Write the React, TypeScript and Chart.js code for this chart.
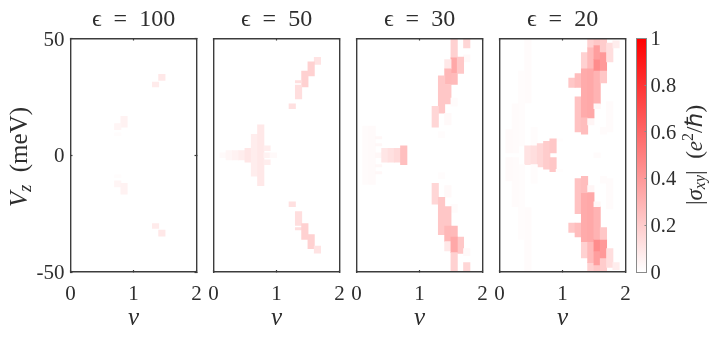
import React, { useEffect, useRef } from "react";
import { Chart, registerables } from "chart.js";

Chart.register(...registerables);

// [nu centre, Vz low, Vz high, |sigma_xy|]
type Cell = [number, number, number, number];

const epsilons = ["100", "50", "30", "20"];
const nuTicks = [0, 1, 2];
const vzTicks = [-50, 0, 50];
const colorbarTicks = [0, 0.2, 0.4, 0.6, 0.8, 1];
const colorbarRange = [0, 1];

const cellsE100: Cell[] = [
  [1.45, 32, 34.7, 0.09], [1.35, 29.3, 31.3, 0.08],
  [0.85, 12, 16.7, 0.05], [0.75, 11, 13.6, 0.04], [0.75, 8.4, 9.6, 0.01],
  [0.75, -9.6, -8.4, 0.01], [0.75, -13.6, -11, 0.04], [0.85, -16.7, -12, 0.05],
  [1.35, -31.3, -29.3, 0.08], [1.45, -34.7, -32, 0.09],
];

const cellsE50: Cell[] = [
  [1.65, 38.9, 41.9, 0.11], [1.55, 34, 40, 0.18], [1.45, 29.3, 36, 0.18],
  [1.35, 31, 32, 0.13], [1.35, 24.1, 30, 0.13], [1.25, 20, 22, 0.12],
  [0.15, -1, 1, 0.02], [0.25, -2, 2, 0.035], [0.35, -2, 2, 0.05], [0.45, -2, 2, 0.07],
  [0.55, -3, 3, 0.1], [0.65, -9, 9, 0.07], [0.75, -13, 13, 0.09],
  [0.85, 2, 4, 0.07], [0.85, -1, 1, 0.05], [0.85, -4, -2, 0.07], [0.95, -1, 1, 0.025],
  [1.25, -22, -20, 0.12], [1.35, -30, -24.1, 0.13], [1.35, -32, -31, 0.13],
  [1.45, -36, -29.3, 0.18], [1.55, -40, -34, 0.18], [1.65, -41.9, -38.9, 0.11],
];

const cellsE30: Cell[] = [
  [1.55, 41.7, 50, 0.18], [1.55, 35, 41.7, 0.34], [1.55, 30.3, 35, 0.27],
  [1.75, 46, 50, 0.16], [1.75, 40, 43, 0.025], [1.65, 35, 42, 0.22],
  [1.45, 37, 41, 0.09], [1.45, 30.3, 37, 0.28], [1.45, 22, 30.3, 0.22],
  [1.35, 18, 34, 0.22], [1.25, 12, 21, 0.16], [1.45, 13, 18, 0.025],
  [1.55, 21, 24.5, 0.015], [1.35, 7.5, 10, 0.01],
  [0.15, -12.5, 12.5, 0.015], [0.25, -12.5, 12.5, 0.02],
  [0.35, 7, 8, 0.03], [0.35, 4, 5, 0.03], [0.35, -1, 1, 0.03], [0.35, -5, -4, 0.03], [0.35, -8, -7, 0.03],
  [0.45, -3, 3, 0.1], [0.55, -3, 3, 0.12], [0.65, -3, 3, 0.15], [0.75, -4, 4, 0.25],
  [1.35, -10, -7.5, 0.01], [1.55, -24.5, -21, 0.015], [1.45, -18, -13, 0.025],
  [1.25, -21, -12, 0.16], [1.35, -34, -18, 0.22], [1.45, -30.3, -22, 0.22],
  [1.45, -37, -30.3, 0.28], [1.45, -41, -37, 0.09], [1.65, -42, -35, 0.22],
  [1.75, -43, -40, 0.025], [1.75, -50, -46, 0.16], [1.55, -35, -30.3, 0.27],
  [1.55, -41.7, -35, 0.34], [1.55, -50, -41.7, 0.18],
];

const cellsE20: Cell[] = [
  [0.45, 22.4, 50, 0.015], [0.35, 4, 36, 0.012], [0.25, 1, 22, 0.015], [0.15, 1, 11, 0.02],
  [0.55, 4, 12, 0.012], [0.95, 6, 7, 0.008],
  [0.45, -4, 4, 0.11], [0.55, -4, 4, 0.13], [0.65, -5, 5, 0.16], [0.75, -6, 6, 0.2],
  [0.85, 1, 7, 0.22], [0.85, -7, -1, 0.22], [1.55, -1, 1, 0.015],
  [1.15, 29, 33, 0.22], [1.25, 29, 35, 0.26], [1.25, 10, 25, 0.24],
  [1.35, 37, 44, 0.18], [1.35, 16, 37, 0.33], [1.35, 9, 16, 0.26], [1.45, 13, 16, 0.04],
  [1.45, 46, 50, 0.18], [1.45, 37, 46, 0.27], [1.45, 16, 37, 0.34],
  [1.55, 47, 50, 0.22], [1.55, 41, 47, 0.38], [1.55, 36, 41, 0.45], [1.55, 22, 36, 0.3], [1.55, 20, 22, 0.03],
  [1.65, 44, 50, 0.2], [1.65, 36, 44, 0.4], [1.65, 31, 36, 0.22], [1.65, 9, 12, 0.015],
  [1.75, 40, 48, 0.13], [1.75, 10, 23, 0.015], [1.85, 46, 49, 0.07],
  [0.45, -50, -22.4, 0.015], [0.35, -36, -4, 0.012], [0.25, -22, -1, 0.015], [0.15, -11, -1, 0.02],
  [0.55, -12, -4, 0.012], [0.95, -7, -6, 0.008],
  [1.15, -33, -29, 0.22], [1.25, -35, -29, 0.26], [1.25, -25, -10, 0.24],
  [1.35, -44, -37, 0.18], [1.35, -37, -16, 0.33], [1.35, -16, -9, 0.26], [1.45, -16, -13, 0.04],
  [1.45, -50, -46, 0.18], [1.45, -46, -37, 0.27], [1.45, -37, -16, 0.34],
  [1.55, -50, -47, 0.22], [1.55, -47, -41, 0.38], [1.55, -41, -36, 0.45], [1.55, -36, -22, 0.3], [1.55, -22, -20, 0.03],
  [1.65, -50, -44, 0.2], [1.65, -44, -36, 0.4], [1.65, -36, -31, 0.22], [1.65, -12, -9, 0.015],
  [1.75, -48, -40, 0.13], [1.75, -23, -10, 0.015], [1.85, -49, -46, 0.07],
];

const panelCells = [cellsE100, cellsE50, cellsE30, cellsE20];

const W = 718;
const H = 337;
const TOP = 38.5;
const BOTTOM = 272;
const PANEL_LEFT = [70.5, 213.5, 356.5, 499.5];
const PANEL_WIDTH = 126;
const INK = "#2e2e2e";
const FRAME = "#3c3c3c";
const SERIF = "'Liberation Serif', serif";

const shade = (v: number) => {
  const c = Math.round(255 * (1 - v));
  return `rgb(255,${c},${c})`;
};

type Run = { text: string; italic?: boolean; size?: number; shift?: number };

// Axis captions with sub/superscripts, which a single scale title cannot hold.
const richLabel = (id: string, cx: number, cy: number, runs: Run[]) => ({
  id,
  afterDraw(chart: any) {
    const { ctx } = chart;
    const fontOf = (r: Run) => `${r.italic ? "italic " : ""}${r.size}px ${SERIF}`;
    ctx.save();
    ctx.translate(cx, cy);
    ctx.rotate(-Math.PI / 2);
    ctx.fillStyle = INK;
    ctx.textBaseline = "alphabetic";
    ctx.textAlign = "left";
    let total = 0;
    for (const r of runs) {
      ctx.font = fontOf(r);
      total += ctx.measureText(r.text).width;
    }
    let x = -total / 2;
    for (const r of runs) {
      ctx.font = fontOf(r);
      ctx.fillText(r.text, x, r.shift ?? 0);
      x += ctx.measureText(r.text).width;
    }
    ctx.restore();
  },
});

const vzLabelRuns: Run[] = [
  { text: "V", italic: true, size: 25 },
  { text: "z", italic: true, size: 18, shift: 4 },
  { text: "  (meV)", size: 25 },
];
const sigmaLabelRuns: Run[] = [
  { text: "|", size: 23 },
  { text: "σ", italic: true, size: 23 },
  { text: "xy", italic: true, size: 16, shift: 3 },
  { text: "|", size: 23 },
  { text: "  (", size: 23 },
  { text: "e", italic: true, size: 23 },
  { text: "2", size: 16, shift: -9 },
  { text: "/ℏ)", size: 23 },
];

const fixedSize = (prop: "width" | "height", value: number) => (scale: any) => {
  scale[prop] = value;
};

// Nudges a tick label down a little: the empty first line sets the offset.
const loweredLabel = (v: number) => ["", String(v)];

const frameAxis = (extra: any) => ({
  type: "linear",
  offset: false,
  border: { display: true, color: FRAME, width: 1.4, z: 2 },
  ...extra,
});

function panelConfig(i: number): any {
  const cells = panelCells[i];
  const left = PANEL_LEFT[i];
  const right = left + PANEL_WIDTH;
  const showY = i === 0;
  const tickFont = { family: SERIF, size: 21 };
  const inward = { display: true, drawOnChartArea: false, drawTicks: true, tickLength: -2, tickColor: FRAME, tickWidth: 1.2, offset: false, z: 2 };
  const none = { display: true, drawOnChartArea: false, drawTicks: false, offset: false, z: 2 };
  const xStops = (scale: any) => { scale.ticks = nuTicks.map((value) => ({ value })); };
  const yStops = (scale: any) => { scale.ticks = vzTicks.map((value) => ({ value })); };
  return {
    type: "bar",
    data: {
      datasets: [{
        data: cells.map(([nu, lo, hi]) => ({ x: nu, y: [lo, hi] })),
        backgroundColor: cells.map((c) => shade(c[3])),
        borderWidth: 0,
        barThickness: 6.5,
      }],
    },
    options: {
      responsive: false,
      animation: false,
      devicePixelRatio: 1,
      layout: { padding: 0 },
      plugins: {
        legend: { display: false },
        tooltip: { enabled: false },
        title: {
          display: true,
          text: `ϵ  =  ${epsilons[i]}`,
          color: INK,
          fullSize: false,
          font: { family: SERIF, size: 24, weight: "normal", lineHeight: 1.2 },
          padding: { top: 5.5, bottom: TOP - 5.5 - 24 * 1.2 },
        },
      },
      scales: {
        x: frameAxis({
          position: "bottom", min: 0, max: 2, afterBuildTicks: xStops, afterFit: fixedSize("height", H - BOTTOM),
          grid: inward,
          ticks: { color: INK, font: tickFont, padding: 11.5, maxRotation: 0, autoSkip: false },
          title: { display: true, text: "ν", color: INK, font: { family: SERIF, size: 25, style: "italic", lineHeight: 1.2 }, padding: { top: 0, bottom: 4 } },
        }),
        x2: frameAxis({
          position: "top", min: 0, max: 2, afterBuildTicks: xStops, afterFit: fixedSize("height", 0),
          grid: inward, ticks: { display: false },
        }),
        y: frameAxis({
          position: "left", min: -50, max: 50, afterBuildTicks: yStops, afterFit: fixedSize("width", left),
          grid: showY ? inward : none,
          ticks: { display: showY, color: INK, font: { ...tickFont, lineHeight: "3px" }, padding: 8, autoSkip: false, callback: loweredLabel },
        }),
        y2: frameAxis({
          position: "right", min: -50, max: 50, afterBuildTicks: yStops, afterFit: fixedSize("width", W - right),
          grid: showY ? inward : none, ticks: { display: false },
        }),
      },
    },
    plugins: showY ? [richLabel("vzLabel", 27, 157, vzLabelRuns)] : [],
  };
}

function colorbarConfig(): any {
  const barLeft = 636.5;
  const barRight = 646;
  return {
    type: "bar",
    data: {
      labels: ["sigma"],
      datasets: [{
        data: [colorbarRange],
        borderWidth: 0,
        barPercentage: 1,
        categoryPercentage: 1,
        backgroundColor: (ctx: any) => {
          const area = ctx.chart.chartArea;
          if (!area) return "#fff";
          const g = ctx.chart.ctx.createLinearGradient(0, area.bottom, 0, area.top);
          g.addColorStop(0, shade(colorbarRange[0]));
          g.addColorStop(1, shade(colorbarRange[1]));
          return g;
        },
      }],
    },
    options: {
      responsive: false,
      animation: false,
      devicePixelRatio: 1,
      layout: { padding: { top: TOP, bottom: H - BOTTOM } },
      plugins: { legend: { display: false }, tooltip: { enabled: false } },
      scales: {
        x: {
          position: "bottom", afterFit: fixedSize("height", 0),
          grid: { display: false }, ticks: { display: false },
          border: { display: true, color: "#8a8a8a", width: 1, z: 2 },
        },
        xTop: {
          axis: "x", type: "linear", position: "top", min: 0, max: 1, afterFit: fixedSize("height", 0),
          afterBuildTicks: (s: any) => { s.ticks = []; },
          grid: { display: false }, ticks: { display: false },
          border: { display: true, color: "#8a8a8a", width: 1, z: 2 },
        },
        y: {
          position: "left", min: 0, max: 1, afterFit: fixedSize("width", barLeft),
          afterBuildTicks: (s: any) => { s.ticks = []; },
          grid: { display: false }, ticks: { display: false },
          border: { display: true, color: "#8a8a8a", width: 1, z: 2 },
        },
        yRight: {
          axis: "y", type: "linear", position: "right", min: 0, max: 1, afterFit: fixedSize("width", W - barRight),
          afterBuildTicks: (s: any) => { s.ticks = colorbarTicks.map((value) => ({ value })); },
          grid: { display: true, drawOnChartArea: false, tickLength: -1.5, tickColor: "#8a8a8a", z: 2 },
          border: { display: true, color: "#8a8a8a", width: 1, z: 2 },
          ticks: {
            color: INK, font: { family: SERIF, size: 20.5, lineHeight: "3px" }, padding: 6, autoSkip: false,
            callback: loweredLabel,
          },
        },
      },
    },
    plugins: [richLabel("sigmaLabel", 702, 155, sigmaLabelRuns)],
  };
}

export default function App() {
  const refs = useRef<(HTMLCanvasElement | null)[]>([]);
  useEffect(() => {
    const charts = refs.current.map((cv, i) =>
      new Chart(cv as HTMLCanvasElement, i < 4 ? panelConfig(i) : colorbarConfig())
    );
    return () => charts.forEach((c) => c.destroy());
  }, []);
  return (
    <div style={{ position: "absolute", left: 0, top: 0, width: W, height: H, background: "#fff", overflow: "hidden" }}>
      {[0, 1, 2, 3, 4].map((i) => (
        <canvas
          key={i}
          ref={(el) => { refs.current[i] = el; }}
          width={W}
          height={H}
          style={{ position: "absolute", left: 0, top: 0, width: W, height: H }}
        />
      ))}
    </div>
  );
}
